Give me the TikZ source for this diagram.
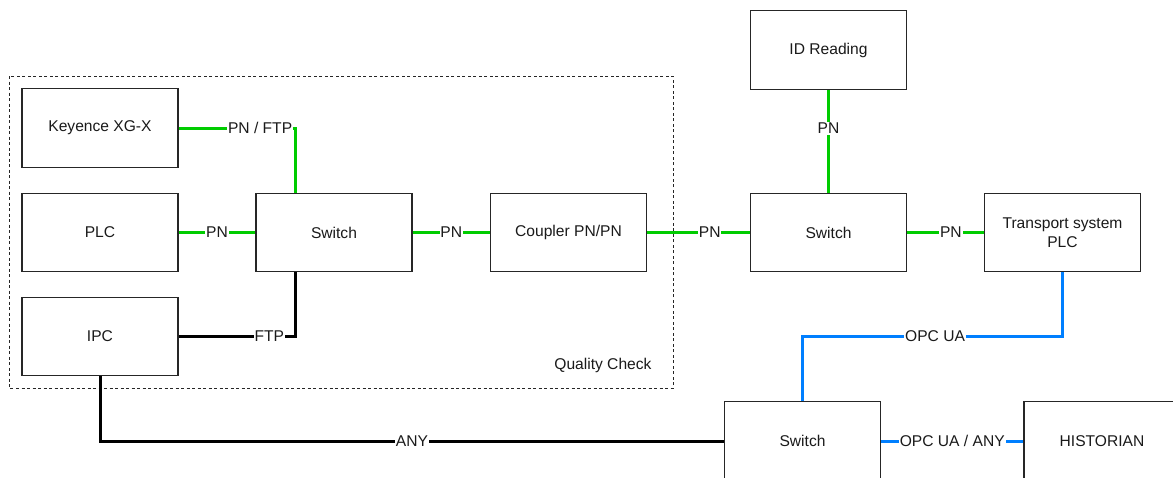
\documentclass[tikz,border=0pt]{standalone}
\usepackage{fontspec}
\setmainfont{Liberation Sans}
\usetikzlibrary{calc}
\definecolor{pngreen}{HTML}{00CC00}
\definecolor{opcblue}{HTML}{007FFF}
\definecolor{txt}{HTML}{1A1A1A}
\tikzset{
  devbox/.style={draw=black!85, line width=1.3pt, fill=white, minimum width=156pt, minimum height=78.5pt, inner sep=0pt, align=center, text=txt, font=\fontsize{15.6}{18.5}\selectfont},
  lbl/.style={fill=white, inner sep=0.8pt, text=txt, font=\fontsize{15.6}{18.5}\selectfont},
  pn/.style={draw=pngreen, line width=3pt},
  opc/.style={draw=opcblue, line width=3pt},
  blk/.style={draw=black, line width=3pt},
  grp/.style={draw=black!85, line width=1pt, dash pattern=on 3pt off 2.5pt}
}
\begin{document}
\begin{tikzpicture}[x=1pt, y=-1pt]
\clip (0,0) rectangle (1173,477);
\fill[white] (0,0) rectangle (1173,477);
% group
\draw[grp] (9,76) rectangle (673,388);
\node[anchor=east, text=txt, font=\fontsize{15.6}{18.5}\selectfont] (qc) at (655,365) {Quality Check};
% boxes
\node[devbox] (key) at (100,128) {Keyence XG-X};
\node[devbox] (plc) at (100,232.5) {PLC};
\node[devbox] (ipc) at (100,336.5) {IPC};
\node[devbox] (sw1) at (334,232.5) {Switch};
\node[devbox] (cpl) at (568.5,232.5) {Coupler PN/PN};
\node[devbox] (sw2) at (828.5,232.5) {Switch};
\node[devbox] (id) at (828.5,50) {ID Reading};
\node[devbox] (tsp) at (1062.5,232.5) {Transport system\\PLC};
\node[devbox] (sw3) at (802.5,441) {Switch};
\node[devbox] (his) at (1102,441) {HISTORIAN};
% bend coordinates
\coordinate (k1) at (295,128);
\coordinate (i1) at (295,336.5);
\coordinate (t1) at (1062.5,336);
\coordinate (t2) at (802.5,336);
\coordinate (a1) at (100,441);
% connectors
\draw[pn] (key.east) -- node[lbl, pos=0.7] {PN / FTP} (k1) -- (k1 |- sw1.north);
\draw[pn] (plc.east) -- node[lbl] {PN} (sw1.west);
\draw[blk] (ipc.east) -- node[lbl, pos=0.78] {FTP} (i1) -- (i1 |- sw1.south);
\draw[pn] (sw1.east) -- node[lbl] {PN} (cpl.west);
\draw[pn] (cpl.east) -- node[lbl, pos=0.61] {PN} (sw2.west);
\draw[pn] (id.south) -- node[lbl, pos=0.375] {PN} (sw2.north);
\draw[pn] (sw2.east) -- node[lbl, pos=0.57] {PN} (tsp.west);
\draw[opc] (tsp.south) -- (t1) -- node[lbl, pos=0.49] {OPC UA} (t2) -- (sw3.north);
\draw[opc] (sw3.east) -- node[lbl] {OPC UA / ANY} (his.west);
\draw[blk] (ipc.south) -- (a1) -- node[lbl, pos=0.5] {ANY} (sw3.west);
\end{tikzpicture}
\end{document}
